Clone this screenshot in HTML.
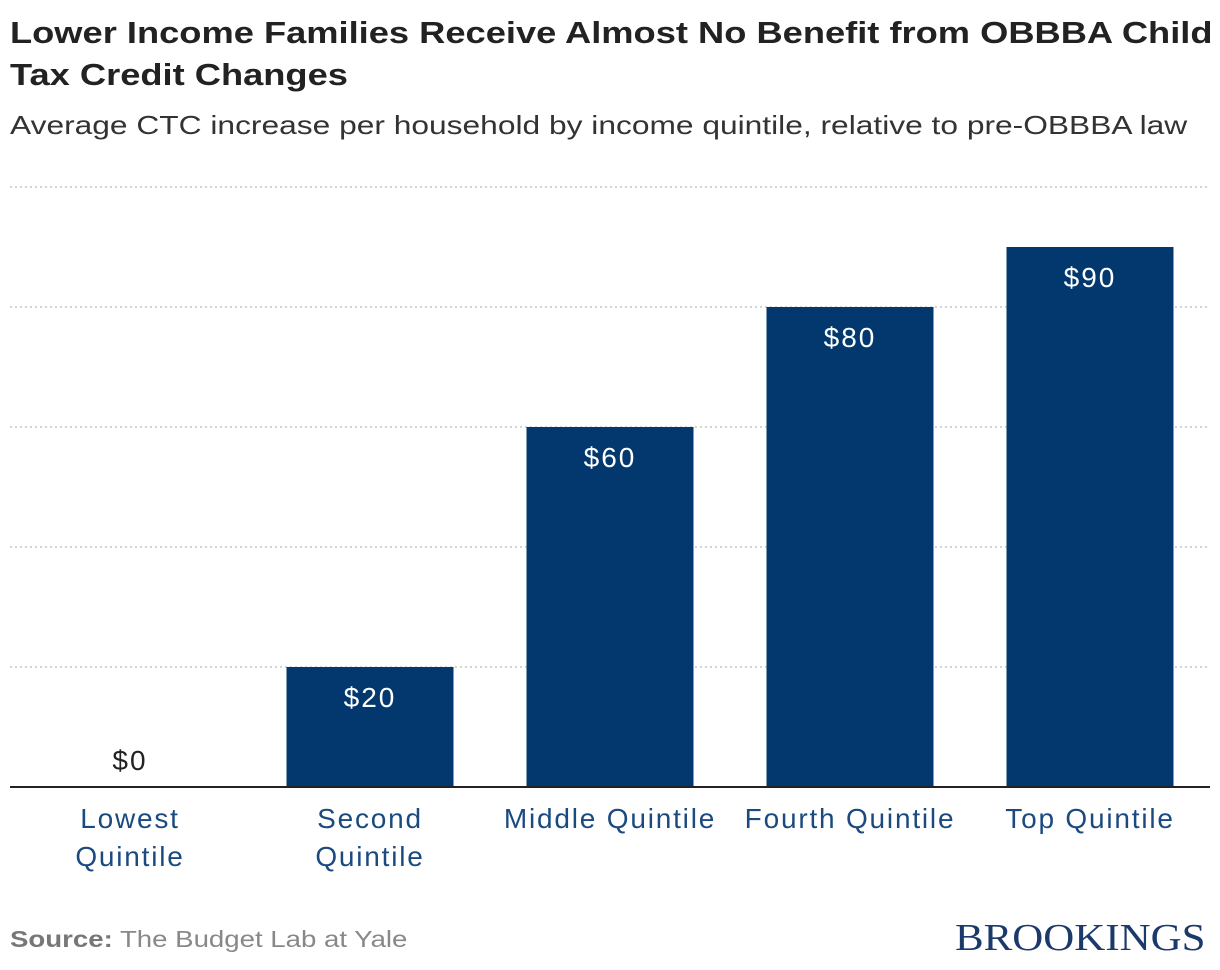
<!DOCTYPE html>
<html><head><meta charset="utf-8"><style>
body{margin:0;background:#fff;width:1220px;height:970px;overflow:hidden;font-family:"Liberation Sans",sans-serif}
#title{position:absolute;left:10px;top:12px;font-size:31px;font-weight:bold;color:#222;line-height:42px;transform:scaleX(1.17);transform-origin:0 0;white-space:nowrap}
#sub{position:absolute;left:10px;top:110px;font-size:26px;color:#333;transform:scaleX(1.22);transform-origin:0 0;white-space:nowrap}
#src{position:absolute;left:10px;top:926px;font-size:23px;color:#888;transform:scaleX(1.2);transform-origin:0 0;white-space:nowrap}
#logo{position:absolute;left:955px;top:916px;font-family:"Liberation Serif",serif;font-size:38px;color:#1b3a6b;transform:scaleX(1.13);transform-origin:0 0;white-space:nowrap}
svg{position:absolute;left:0;top:0}
</style></head><body>
<div id="title">Lower Income Families Receive Almost No Benefit from OBBBA Child<br>Tax Credit Changes</div>
<div id="sub">Average CTC increase per household by income quintile, relative to pre-OBBBA law</div>
<svg id="chart" width="1220" height="970"></svg>
<div id="src"><b style="color:#777">Source:</b> The Budget Lab at Yale</div>
<div id="logo">BROOKINGS</div>
<script>
const categories=[["Lowest","Quintile"],["Second","Quintile"],["Middle Quintile"],["Fourth Quintile"],["Top Quintile"]];
const values=[0,20,60,80,90];
const labels=["$0","$20","$60","$80","$90"];
const gridTicks=[20,40,60,80,100];
const svg=document.getElementById('chart');
const NS='http://www.w3.org/2000/svg';
const x0=10,x1=1210,yBase=787,yTop=187,maxV=100;
const slot=(x1-x0)/categories.length,bw=167;
const y=v=>yBase-(v/maxV)*(yBase-yTop);
function mk(t,a){const e=document.createElementNS(NS,t);for(const k in a)e.setAttribute(k,a[k]);svg.appendChild(e);return e;}
gridTicks.forEach(t=>{const l=mk('line',{x1:x0,x2:x1,y1:y(t),y2:y(t),stroke:'#bbb','stroke-width':1.2,'stroke-dasharray':'2,3'});

});
values.forEach((v,i)=>{const cx=x0+slot*(i+0.5);
if(v>0){const r=mk('rect',{x:cx-bw/2,y:y(v),width:bw,height:yBase-y(v),fill:'#02386e'});

}
const ty=v>0?y(v)+40:yBase-17;
const t=mk('text',{x:cx,y:ty,'text-anchor':'middle','font-size':28,'letter-spacing':2,fill:v>0?'#fff':'#222','font-family':'Liberation Sans, sans-serif'});t.textContent=labels[i];


categories[i].forEach((s,j)=>{const c=mk('text',{x:cx,y:828+j*38,'text-anchor':'middle','font-size':28,'letter-spacing':1.8,fill:'#1b4a80','font-family':'Liberation Sans, sans-serif'});c.textContent=s;

});});
const b=mk('line',{x1:x0,x2:x1,y1:yBase,y2:yBase,stroke:'#222','stroke-width':2});


</script>
</body></html>
